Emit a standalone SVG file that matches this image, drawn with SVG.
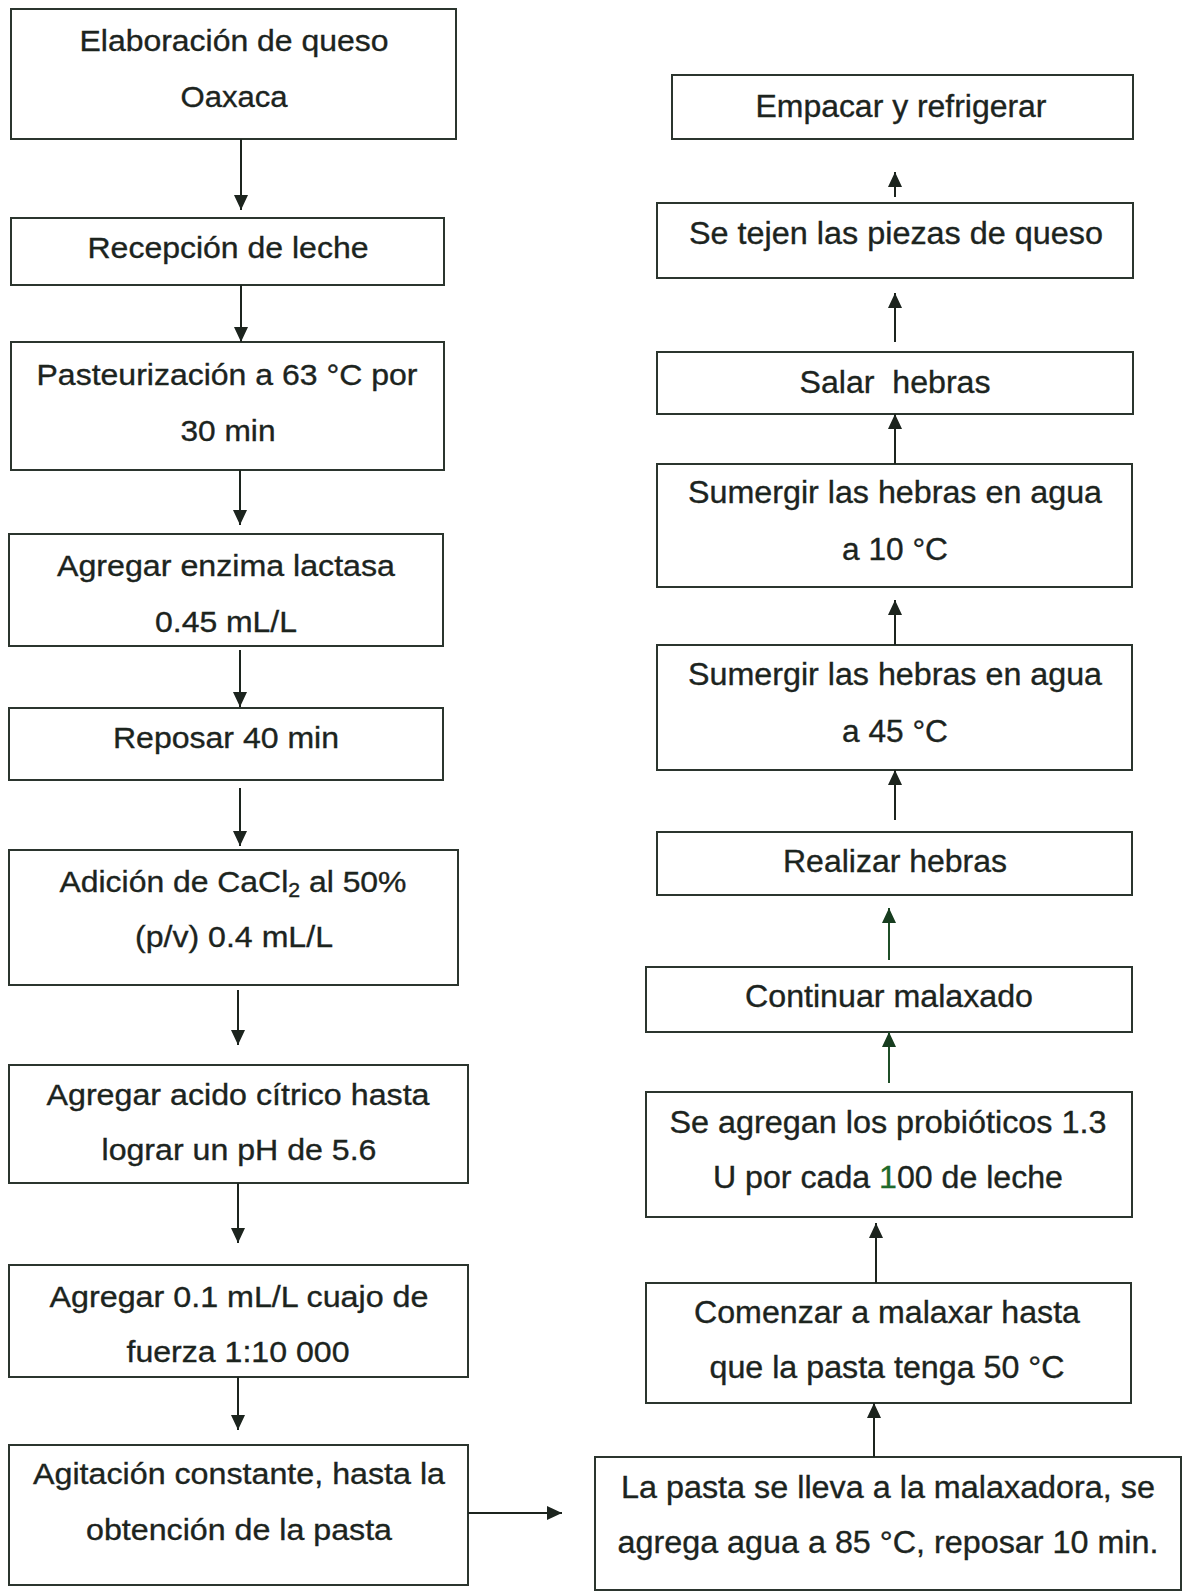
<svg xmlns="http://www.w3.org/2000/svg" width="1185" height="1592" viewBox="0 0 1185 1592">
<style>
.box{fill:#ffffff;stroke:#2b352e;stroke-width:2}
.t{font-family:"Liberation Sans",Arial,sans-serif;font-size:30px;fill:#1c241e;stroke:#1c241e;stroke-width:0.35;text-anchor:middle}
.r{font-size:31px}
.c{stroke:#1c241e;stroke-width:2;fill:none;marker-end:url(#ah)}
.g{stroke:#1f4f28;stroke-width:2;fill:none;marker-end:url(#ahg)}
</style>
<defs>
<marker id="ah" markerUnits="userSpaceOnUse" markerWidth="15" markerHeight="14" refX="15" refY="7" orient="auto"><path d="M0,0 L15,7 L0,14 z" fill="#1c241e"/></marker>
<marker id="ahg" markerUnits="userSpaceOnUse" markerWidth="15" markerHeight="14" refX="15" refY="7" orient="auto"><path d="M0,0 L15,7 L0,14 z" fill="#173d1f"/></marker>
</defs>
<rect width="1185" height="1592" fill="#ffffff"/>

<g id="n1"><rect class="box" x="11" y="9" width="445" height="130"/>
<text class="t" x="234" y="51" textLength="309" lengthAdjust="spacingAndGlyphs">Elaboración de queso</text>
<text class="t" x="234" y="107" textLength="107" lengthAdjust="spacingAndGlyphs">Oaxaca</text></g>

<g id="n2"><rect class="box" x="11" y="218" width="433" height="67"/>
<text class="t" x="228" y="258" textLength="281" lengthAdjust="spacingAndGlyphs">Recepción de leche</text></g>

<g id="n3"><rect class="box" x="11" y="342" width="433" height="128"/>
<text class="t" x="227" y="385" textLength="381" lengthAdjust="spacingAndGlyphs">Pasteurización a 63 °C por</text>
<text class="t" x="228" y="441" textLength="95" lengthAdjust="spacingAndGlyphs">30 min</text></g>

<g id="n4"><rect class="box" x="9" y="534" width="434" height="112"/>
<text class="t" x="226" y="576" textLength="338" lengthAdjust="spacingAndGlyphs">Agregar enzima lactasa</text>
<text class="t" x="226" y="632" textLength="142" lengthAdjust="spacingAndGlyphs">0.45 mL/L</text></g>

<g id="n5"><rect class="box" x="9" y="708" width="434" height="72"/>
<text class="t" x="226" y="748" textLength="226" lengthAdjust="spacingAndGlyphs">Reposar 40 min</text></g>

<g id="n6"><rect class="box" x="9" y="850" width="449" height="135"/>
<text class="t" x="233" y="892" textLength="347" lengthAdjust="spacingAndGlyphs">Adición de CaCl<tspan font-size="20" dy="5">2</tspan><tspan dy="-5"> al 50%</tspan></text>
<text class="t" x="234" y="947" textLength="198" lengthAdjust="spacingAndGlyphs">(p/v) 0.4 mL/L</text></g>

<g id="n7"><rect class="box" x="9" y="1065" width="459" height="118"/>
<text class="t" x="238" y="1105" textLength="383" lengthAdjust="spacingAndGlyphs">Agregar acido cítrico hasta</text>
<text class="t" x="239" y="1160" textLength="275" lengthAdjust="spacingAndGlyphs">lograr un pH de 5.6</text></g>

<g id="n8"><rect class="box" x="9" y="1265" width="459" height="112"/>
<text class="t" x="239" y="1307" textLength="379" lengthAdjust="spacingAndGlyphs">Agregar 0.1 mL/L cuajo de</text>
<text class="t" x="238" y="1362" textLength="223" lengthAdjust="spacingAndGlyphs">fuerza 1:10 000</text></g>

<g id="n9"><rect class="box" x="9" y="1445" width="459" height="140"/>
<text class="t" x="239" y="1484" textLength="412" lengthAdjust="spacingAndGlyphs">Agitación constante, hasta la</text>
<text class="t" x="239" y="1540" textLength="306" lengthAdjust="spacingAndGlyphs">obtención de la pasta</text></g>

<g id="n10"><rect class="box" x="595" y="1457" width="586" height="133"/>
<text class="t r" x="888" y="1498" textLength="534" lengthAdjust="spacingAndGlyphs">La pasta se lleva a la malaxadora, se</text>
<text class="t r" x="888" y="1553" textLength="541" lengthAdjust="spacingAndGlyphs">agrega agua a 85 °C, reposar 10 min.</text></g>

<g id="n11"><rect class="box" x="646" y="1283" width="485" height="120"/>
<text class="t r" x="887" y="1323" textLength="386" lengthAdjust="spacingAndGlyphs">Comenzar a malaxar hasta</text>
<text class="t r" x="887" y="1378" textLength="355" lengthAdjust="spacingAndGlyphs">que la pasta tenga 50 °C</text></g>

<g id="n12"><rect class="box" x="646" y="1092" width="486" height="125"/>
<text class="t r" x="888" y="1133" textLength="437" lengthAdjust="spacingAndGlyphs">Se agregan los probióticos 1.3</text>
<text class="t r" x="888" y="1188" textLength="350" lengthAdjust="spacingAndGlyphs">U por cada <tspan fill="#1f6a2a" stroke="#1f6a2a">1</tspan>00 de leche</text></g>

<g id="n13"><rect class="box" x="646" y="967" width="486" height="65"/>
<text class="t r" x="889" y="1007" textLength="288" lengthAdjust="spacingAndGlyphs">Continuar malaxado</text></g>

<g id="n14"><rect class="box" x="657" y="832" width="475" height="63"/>
<text class="t r" x="895" y="872" textLength="224" lengthAdjust="spacingAndGlyphs">Realizar hebras</text></g>

<g id="n15"><rect class="box" x="657" y="645" width="475" height="125"/>
<text class="t r" x="895" y="685" textLength="414" lengthAdjust="spacingAndGlyphs">Sumergir las hebras en agua</text>
<text class="t r" x="895" y="742" textLength="106" lengthAdjust="spacingAndGlyphs">a 45 °C</text></g>

<g id="n16"><rect class="box" x="657" y="464" width="475" height="123"/>
<text class="t r" x="895" y="503" textLength="414" lengthAdjust="spacingAndGlyphs">Sumergir las hebras en agua</text>
<text class="t r" x="895" y="560" textLength="106" lengthAdjust="spacingAndGlyphs">a 10 °C</text></g>

<g id="n17"><rect class="box" x="657" y="352" width="476" height="62"/>
<text class="t r" x="895" y="393" textLength="191" lengthAdjust="spacingAndGlyphs" xml:space="preserve">Salar  hebras</text></g>

<g id="n18"><rect class="box" x="657" y="203" width="476" height="75"/>
<text class="t r" x="896" y="244" textLength="414" lengthAdjust="spacingAndGlyphs">Se tejen las piezas de queso</text></g>

<g id="n19"><rect class="box" x="672" y="75" width="461" height="64"/>
<text class="t r" x="901" y="117" textLength="291" lengthAdjust="spacingAndGlyphs">Empacar y refrigerar</text></g>

<g id="connectors">
<line class="c" x1="241" y1="139" x2="241" y2="210"/>
<line class="c" x1="241" y1="285" x2="241" y2="342"/>
<line class="c" x1="240" y1="470" x2="240" y2="525"/>
<line class="c" x1="240" y1="650" x2="240" y2="707"/>
<line class="c" x1="240" y1="788" x2="240" y2="846"/>
<line class="c" x1="238" y1="990" x2="238" y2="1045"/>
<line class="c" x1="238" y1="1183" x2="238" y2="1243"/>
<line class="c" x1="238" y1="1377" x2="238" y2="1430"/>
<line class="c" x1="468" y1="1513" x2="562" y2="1513"/>
<line class="c" x1="874" y1="1457" x2="874" y2="1403"/>
<line class="c" x1="876" y1="1283" x2="876" y2="1223"/>
<line class="g" x1="889" y1="1083" x2="889" y2="1032"/>
<line class="g" x1="889" y1="960" x2="889" y2="908"/>
<line class="c" x1="895" y1="820" x2="895" y2="770"/>
<line class="c" x1="895" y1="645" x2="895" y2="600"/>
<line class="c" x1="895" y1="464" x2="895" y2="414"/>
<line class="c" x1="895" y1="342" x2="895" y2="293"/>
<line class="c" x1="895" y1="197" x2="895" y2="172"/>
</g>
</svg>
